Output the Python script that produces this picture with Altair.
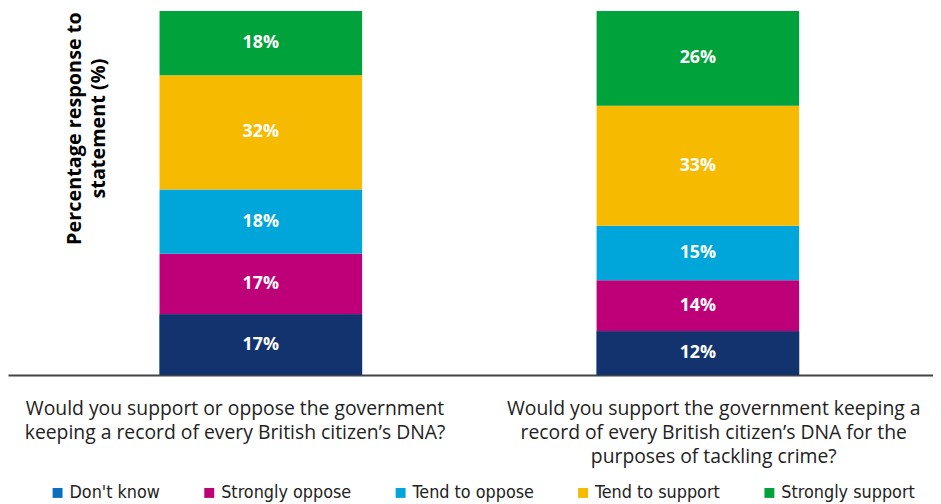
import altair as alt
import pandas as pd

questions = ["Q1", "Q2"]
question_lines = [
    ["Would you support or oppose the government", "keeping a record of every British citizen\u2019s DNA?"],
    ["Would you support the government keeping a", "record of every British citizen\u2019s DNA for the", "purposes of tackling crime?"],
]
categories = ["Don't know", "Strongly oppose", "Tend to oppose", "Tend to support", "Strongly support"]
q1_values = [17, 17, 18, 32, 18]
q2_values = [12, 14, 15, 33, 26]
legend_colors = ["#0A6EBD", "#BE0078", "#00A6D9", "#F6BA00", "#00A23C"]
bottom_bar_color = "#13336F"

rows = []
for q, vals in zip(questions, [q1_values, q2_values]):
    for i, (c, v) in enumerate(zip(categories, vals)):
        rows.append({"question": q, "category": c, "value": v, "rank": i, "label": f"{v}%"})
df = pd.DataFrame(rows)

def js_list(lines):
    return "[" + ",".join("'" + s.replace("'", "\\'") + "'" for s in lines) + "]"

label_expr = f"datum.value == '{questions[0]}' ? {js_list(question_lines[0])} : {js_list(question_lines[1])}"

x_enc = alt.X(
    "question:N",
    sort=questions,
    scale=alt.Scale(paddingInner=0.5365, paddingOuter=0.3265, align=0.531),
    axis=alt.Axis(
        title=None,
        labelExpr=label_expr,
        labelAngle=0,
        labelFont="Open Sans",
        labelFontSize=19.5,
        labelColor="#222222",
        labelLineHeight=24,
        labelPadding=25,
        labelBaseline="top",
        labelOffset={"condition": {"test": f"datum.value == '{questions[0]}'", "value": -26}, "value": 16},
        ticks=False,
        domainColor="#444444",
        domainWidth=2,
        labelLimit=0,
    ),
)

base = alt.Chart(df).transform_stack(
    stack="value",
    groupby=["question"],
    sort=[alt.SortField("rank", order="ascending")],
    as_=["y0", "y1"],
    offset="normalize",
).transform_calculate(mid="(datum.y0 + datum.y1) / 2")

y_enc = alt.Y(
    "y0:Q",
    scale=alt.Scale(domain=[0, 1], nice=False),
    axis=alt.Axis(
        labels=False, ticks=False, domain=False, grid=False,
        title=["Percentage response to", "statement (%)"],
        titleX=67, titleY=118, titleAngle=-90,
        titleAlign="center", titleBaseline="middle",
        titleFont="Open Sans", titleFontSize=20, titleFontWeight="bold",
        titleColor="#000000", titleLineHeight=24,
    ),
)

bars = base.mark_bar().encode(
    x=x_enc,
    y=y_enc,
    y2="y1:Q",
    color=alt.Color(
        "category:N", sort=categories,
        scale=alt.Scale(domain=categories, range=legend_colors),
        legend=alt.Legend(
            title=None, orient="none", direction="horizontal",
            legendX=41, legendY=477,
            symbolType="square", symbolSize=100, symbolStrokeWidth=0,
            labelFont="'DejaVu Sans Condensed', 'Roboto Condensed', Roboto, sans-serif",
            labelFontSize=18, labelColor="#222222",
            columnPadding=40, labelOffset=3, labelLimit=0,
        ),
    ),
)

bottom = base.transform_filter("datum.rank == 0").mark_bar(
    color=bottom_bar_color
).encode(
    x=alt.X("question:N", sort=questions),
    y="y0:Q",
    y2="y1:Q",
)

texts = base.mark_text(color="white", font="Open Sans", fontSize=18, fontWeight="bold").encode(
    x=alt.X("question:N", sort=questions),
    y=alt.Y("mid:Q"),
    text="label:N",
)

chart = alt.layer(bars, bottom, texts).properties(
    width=933, height=367,
    padding={"left": 0, "top": 1, "right": 0, "bottom": 127},
    autosize=alt.AutoSizeParams(type="none"),
).configure_view(stroke=None)

chart.save("out.html", embed_options={"renderer": "svg", "actions": False})
